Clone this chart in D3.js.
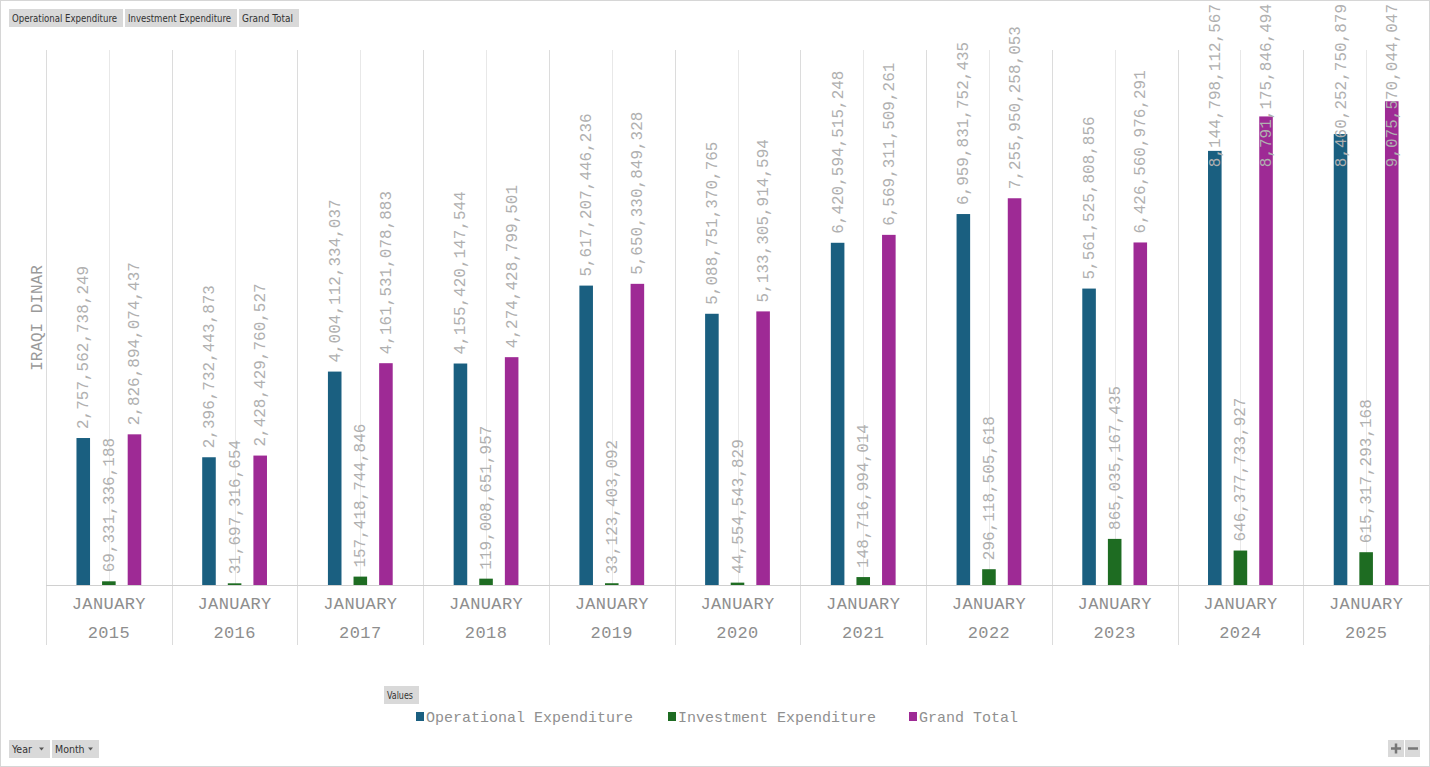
<!DOCTYPE html>
<html>
<head>
<meta charset="utf-8">
<script src="https://cdn.jsdelivr.net/npm/d3@7.9.0/dist/d3.min.js"></script>
<style>
  body { margin: 0; background: #fff; }
  svg { display: block; }
  .btn text { font-family: "Liberation Sans Narrow", "DejaVu Sans Condensed", sans-serif; font-size: 10.5px; fill: #333; }
</style>
</head>
<body>
<svg id="chart" width="1430" height="767"></svg>
<script>
// Chart data
const years = ["2015", "2016", "2017", "2018", "2019", "2020", "2021", "2022", "2023", "2024", "2025"];
const month = "JANUARY";
const seriesNames = ["Operational Expenditure", "Investment Expenditure", "Grand Total"];
const operational = [2757562738249, 2396732443873, 4004112334037, 4155420147544, 5617207446236, 5088751370765,
  6420594515248, 6959831752435, 5561525808856, 8144798112567, 8460252750879];
const investment = [69331336188, 31697316654, 157418744846, 119008651957, 33123403092, 44554543829,
  148716994014, 296118505618, 865035167435, 646377733927, 615317293168];
const grandTotal = [2826894074437, 2428429760527, 4161531078883, 4274428799501, 5650330849328, 5133305914594,
  6569311509261, 7255950258053, 6426560976291, 8791175846494, 9075570044047];
const colors = ["#1a5f80", "#1e6c22", "#9e2a95"];

const svg = d3.select("#chart");
const W = 1430, H = 767;

// outer frame
svg.append("rect").attr("x", 0.5).attr("y", 0.5).attr("width", W - 1).attr("height", H - 1)
  .attr("fill", "none").attr("stroke", "#d6d6d6");

const plotLeft = 46, plotRight = 1429, baseY = 585, topY = 50;

const x = d3.scaleBand().domain(years).range([plotLeft, plotRight]).paddingInner(0).paddingOuter(0);
const xs = d3.scaleBand().domain(seriesNames).range([0, x.bandwidth()]).paddingInner(0.47).paddingOuter(1.19);
const y = d3.scaleLinear().domain([0, 1e13]).range([baseY, 52]);

const grid = svg.append("g").attr("stroke", "#dcdcdc").attr("stroke-width", 1);
// category boundary lines + centre lines
years.forEach((yr) => {
  const xx = Math.round(x(yr)) + 0.5;
  grid.append("line").attr("x1", xx).attr("x2", xx).attr("y1", topY).attr("y2", 645);
  const cx = Math.round(x(yr) + x.bandwidth() / 2) + 0.5;
  grid.append("line").attr("x1", cx).attr("x2", cx).attr("y1", topY).attr("y2", baseY).attr("stroke", "#e8e8e8");
});
grid.append("line").attr("x1", plotRight + 0.5).attr("x2", plotRight + 0.5).attr("y1", topY).attr("y2", 645);
grid.append("line").attr("x1", plotLeft).attr("x2", plotRight).attr("y1", baseY + 0.5).attr("y2", baseY + 0.5)
  .attr("stroke", "#d0d0d0");

const rows = years.map((yr, i) => ({ year: yr, values: [operational[i], investment[i], grandTotal[i]] }));

const groups = svg.selectAll("g.cat").data(rows).join("g").attr("class", "cat")
  .attr("transform", d => `translate(${x(d.year)},0)`);

groups.selectAll("rect").data(d => d.values.map((v, k) => ({ v, k })))
  .join("rect")
  .attr("x", d => xs(seriesNames[d.k]))
  .attr("width", xs.bandwidth())
  .attr("y", d => y(d.v))
  .attr("height", d => baseY - y(d.v))
  .attr("fill", d => colors[d.k]);

// data labels, rotated, kept inside chart top
const fmt = d3.format(",d");
const labelSize = 16, charW = labelSize * 0.6;
groups.selectAll("text.val").data(d => d.values.map((v, k) => ({ v, k })))
  .join("text").attr("class", "val")
  .each(function (d) {
    const s = fmt(d.v);
    const len = s.length * charW;
    let bottom = y(d.v) - 9;
    if (bottom - len < 4) bottom = 4 + len;
    const cx = xs(seriesNames[d.k]) + xs.bandwidth() / 2;
    d3.select(this)
      .attr("transform", `translate(${cx + 5},${bottom}) rotate(-90)`)
      .attr("font-family", "'Liberation Mono', monospace")
      .attr("font-size", labelSize)
      .attr("fill", "#b0b0b0")
      .text(s);
  });

// axis labels
const axisG = svg.append("g").attr("font-family", "'Liberation Mono', monospace").attr("fill", "#8e8e8e")
  .attr("text-anchor", "middle");
years.forEach(yr => {
  const cx = x(yr) + x.bandwidth() / 2;
  axisG.append("text").attr("x", cx).attr("y", 609).attr("font-size", 17).attr("letter-spacing", 0.4).text(month);
  axisG.append("text").attr("x", cx).attr("y", 638).attr("font-size", 17).attr("letter-spacing", 0.4).text(yr);
});

// y axis title
svg.append("text").attr("transform", "translate(42,318) rotate(-90)")
  .attr("text-anchor", "middle").attr("font-family", "'Liberation Mono', monospace")
  .attr("font-size", 16).attr("fill", "#9a9a9a").text("IRAQI DINAR");

// legend
const legendX = [416, 668, 909];
const legend = svg.append("g");
seriesNames.forEach((name, k) => {
  legend.append("rect").attr("x", legendX[k]).attr("y", 712).attr("width", 8).attr("height", 9).attr("fill", colors[k]);
  legend.append("text").attr("x", legendX[k] + 10).attr("y", 722)
    .attr("font-family", "'Liberation Mono', monospace").attr("font-size", 15).attr("fill", "#909090").text(name);
});

// pivot field buttons
function button(x0, y0, w, h, label, arrow) {
  const g = svg.append("g").attr("class", "btn");
  g.append("rect").attr("x", x0).attr("y", y0).attr("width", w).attr("height", h).attr("fill", "#d9d9d9");
  const t = g.append("text").attr("x", x0 + 3).attr("y", y0 + h / 2 + 4).text(label);
  if (arrow) {
    g.append("path").attr("d", `M${x0 + w - 11},${y0 + h / 2 - 1.5} l5,0 l-2.5,3 z`).attr("fill", "#555");
  } else {
    t.attr("textLength", w - 9).attr("lengthAdjust", "spacingAndGlyphs");
  }
}
button(9, 9, 114, 18, "Operational Expenditure");
button(125, 9, 112, 18, "Investment Expenditure");
button(239, 9, 60, 18, "Grand Total");
button(384, 686, 35, 18, "Values");
button(9, 740, 41, 18, "Year", true);
button(52, 740, 47, 18, "Month", true);

// zoom +/- buttons
const zb = svg.append("g");
zb.append("rect").attr("x", 1388).attr("y", 740).attr("width", 16).attr("height", 17).attr("fill", "#d9d9d9");
zb.append("rect").attr("x", 1405).attr("y", 740).attr("width", 15).attr("height", 17).attr("fill", "#d9d9d9");
zb.append("path").attr("d", "M1391,748.5 h10 M1396,743.5 v10 M1408,748.5 h10").attr("stroke", "#777").attr("stroke-width", 2.5);
</script>
</body>
</html>
